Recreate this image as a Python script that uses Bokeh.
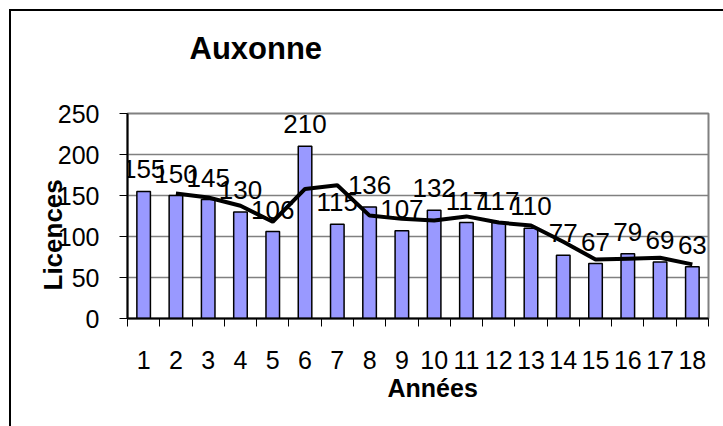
from bokeh.plotting import figure
from bokeh.models import ColumnDataSource, FixedTicker, Title
from bokeh.core.properties import value
from bokeh.embed import file_html
from bokeh.resources import INLINE

# ---- data ----
annees = list(range(1, 19))
licences = [155, 150, 145, 130, 106, 210, 115, 136, 107, 132, 117, 117, 110, 77, 67, 79, 69, 63]
tendance_x = list(range(2, 19))
tendance = [152.5, 147.5, 137.5, 118, 158, 162.5, 125.5, 121.5, 119.5, 124.5, 117, 113.5, 93.5, 72, 73, 74, 66]
y_ticks = [0, 50, 100, 150, 200, 250]
titre = "Auxonne"
titre_x = "Années"
titre_y = "Licences"

FONT = "Liberation Sans"
W, H = 723, 426

p = figure(width=W, height=H, output_backend="svg", toolbar_location=None,
           x_range=(0.5, 18.5), y_range=(0, 250),
           min_border_left=127, min_border_right=15,
           min_border_top=113, min_border_bottom=108,
           styles={"box-shadow": "inset 9px 9px 0px 0px white, inset 11px 11px 0px 0px black"})
p.background_fill_color = "white"
p.border_fill_color = None
p.outline_line_color = "#808080"
p.outline_line_width = 2

src = ColumnDataSource(dict(x=annees, y=licences, lab=[str(v) for v in licences]))
p.vbar(x="x", top="y", width=0.42, source=src, fill_color="#9999FF",
       line_color="black", line_width=1.5)
p.text(x="x", y="y", text="lab", source=src, text_align="center",
       text_baseline="bottom", y_offset=-13, text_font=value(FONT),
       text_font_size="26px", text_color="black")
p.line(tendance_x, tendance, line_color="black", line_width=4)

# grid
p.xgrid.visible = False
p.ygrid.ticker = FixedTicker(ticks=y_ticks)
p.ygrid.grid_line_color = "#808080"
p.ygrid.grid_line_width = 1.5

# y axis
ya = p.yaxis[0]
ya.ticker = FixedTicker(ticks=y_ticks)
ya.axis_line_color = "black"
ya.axis_line_width = 2
ya.major_tick_line_color = "black"
ya.major_tick_line_width = 1
ya.major_tick_out = 8
ya.major_tick_in = 0
ya.minor_tick_line_color = None
ya.major_label_standoff = 20
ya.major_label_text_font = FONT
ya.major_label_text_font_size = "25px"
ya.major_label_text_color = "black"

# x axis
xa = p.xaxis[0]
xa.ticker = FixedTicker(ticks=annees, minor_ticks=[a - 0.5 for a in annees] + [18.5])
xa.axis_line_color = "black"
xa.axis_line_width = 2
xa.major_tick_line_color = None
xa.major_tick_out = 0
xa.major_tick_in = 0
xa.minor_tick_line_color = "black"
xa.minor_tick_line_width = 1
xa.minor_tick_out = 8
xa.minor_tick_in = 0
xa.major_label_standoff = 24
xa.major_label_text_font = FONT
xa.major_label_text_font_size = "25px"
xa.major_label_text_color = "black"

# titles
p.title.text = titre
p.title.align = "left"
p.title.offset = 62
p.title.standoff = 0
p.title.text_font = FONT
p.title.text_font_size = "31px"
p.title.text_font_style = "bold"
p.title.text_color = "black"
# empty spacer between the frame and the chart title
p.add_layout(Title(text=" ", standoff=45, text_font_size="1px"), "above")

p.add_layout(Title(text=titre_x, align="left", offset=260, standoff=1,
                   text_font=FONT, text_font_size="25px", text_font_style="bold",
                   text_color="black"), "below")
p.add_layout(Title(text=titre_y, align="left", offset=28, standoff=-26,
                   text_font=FONT, text_font_size="26px", text_font_style="bold",
                   text_color="black"), "left")

open("out.html", "w").write(file_html(p, INLINE))
